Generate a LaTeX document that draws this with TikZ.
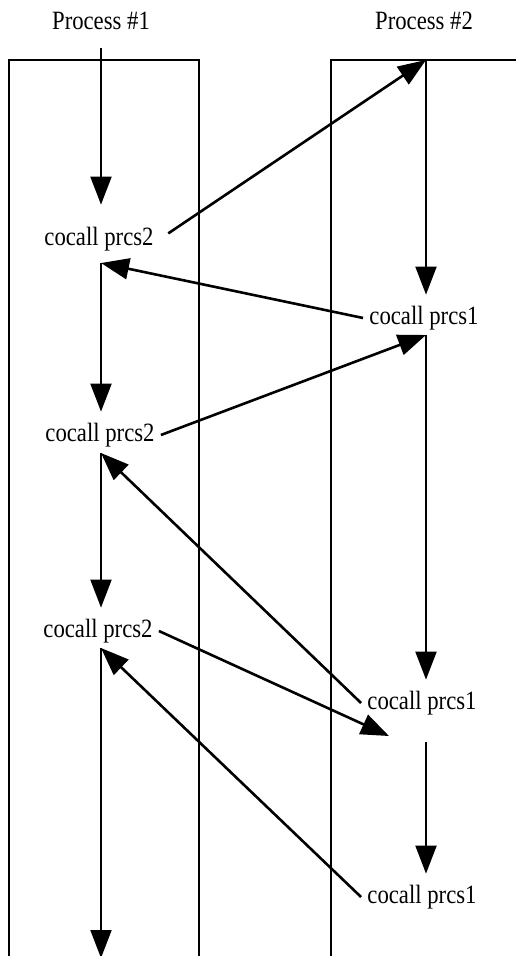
\documentclass[tikz,border=0pt]{standalone}
\usepackage{fontspec}
\setmainfont{Liberation Serif}[FakeStretch=0.86]
\usetikzlibrary{arrows.meta}
\tikzstyle{lane}=[draw,line width=1.1pt]
\tikzstyle{call}=[inner xsep=3pt,inner ysep=0pt,font=\fontsize{13.2}{15}\selectfont]
\tikzstyle{flow}=[-{Triangle[width=10.5pt,length=14pt]},line width=1pt,draw,shorten >=5.5pt]
\tikzstyle{jump}=[-{Triangle[width=10.5pt,length=14pt]},line width=1.3pt,draw]

\begin{document}
\begin{tikzpicture}[x=0.5pt,y=-0.5pt]
        \useasboundingbox (0,0) rectangle (516,956);
        % the two processes
        \path [lane] (9,956) -- (9,60) -- (199,60) -- (199,956);
        \path [lane] (331,956) -- (331,60) -- (516,60);
        \node [call,anchor=base] (t1) at (101,30) {Process \#1};
        \node [call,anchor=base] (t2) at (424,30) {Process \#2};

        % process 1
        \coordinate (p1) at (101,48);
        \node [call] (a1) at (99,239) {cocall prcs2};
        \coordinate (r1) at (101,263);
        \node [call] (a2) at (100,435) {cocall prcs2};
        \coordinate (r2) at (101,453);
        \node [call] (a3) at (98,631) {cocall prcs2};
        \coordinate (r3) at (101,648);
        \coordinate (p1e) at (101,958);

        % process 2
        \coordinate (q0) at (426,60);
        \node [call] (b1) at (424,318) {cocall prcs1};
        \coordinate (s1) at (426,335);
        \node [call] (b2) at (422,703) {cocall prcs1};
        \coordinate (s2) at (426,742);
        \node [call] (b3) at (422,897) {cocall prcs1};

        \path [flow,shorten >=11pt] (p1) -- (p1 |- a1.north);
        \path [flow] (r1) -- (r1 |- a2.north);
        \path [flow] (r2) -- (r2 |- a3.north);
        \path [flow,shorten >=0pt] (r3) -- (p1e);
        \path [flow] (q0) -- (q0 |- b1.north);
        \path [flow] (s1) -- (s1 |- b2.north);
        \path [flow] (s2) -- (s2 |- b3.north);

        \path [jump,shorten <=5pt] (a1.east) -- (q0);
        \path [jump] (b1.west) -- (r1);
        \path [jump] (a2.east) -- (s1);
        \path [jump] (b2.west) -- (r2);
        \path [jump] (a3.east) -- ([shift={(-37,-6)}]s2);
        \path [jump] (b3.west) -- (r3);
\end{tikzpicture}
\end{document}
